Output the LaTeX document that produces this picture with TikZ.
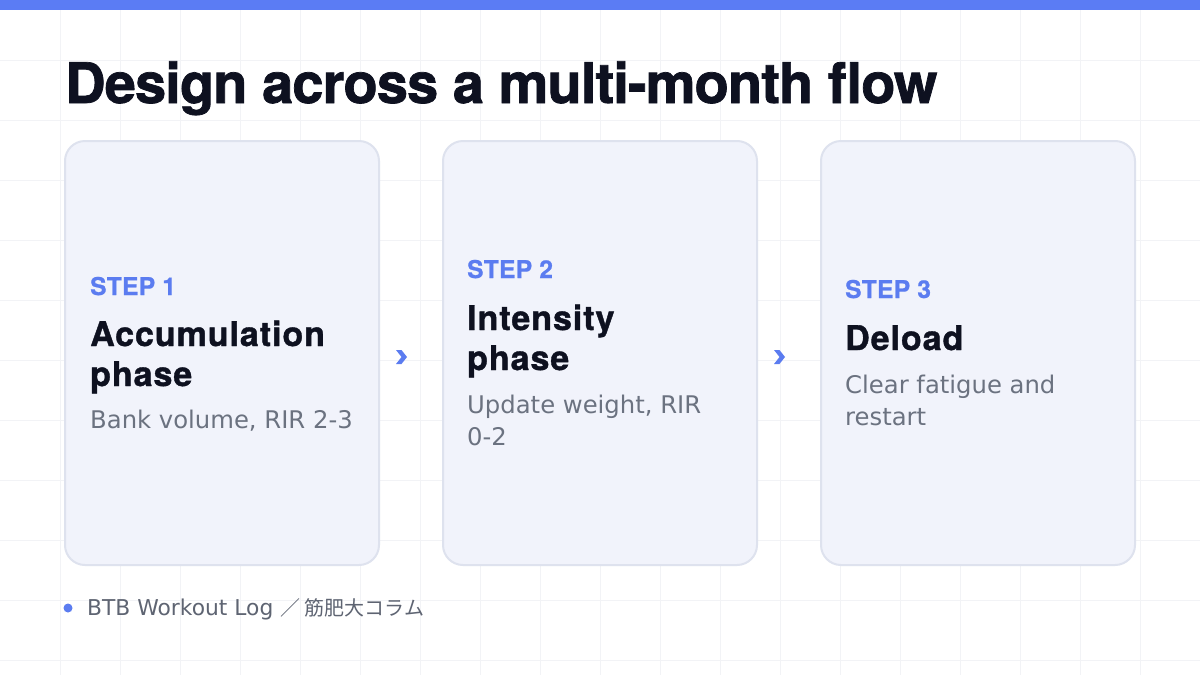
\documentclass[tikz,border=0pt]{standalone}
\usepackage{fontspec}
\setmainfont{DejaVu Sans}
\newfontfamily\hv{TeX Gyre Heros}[LetterSpace=1.5,FakeBold=0.8]
\newfontfamily\hvtitle{TeX Gyre Heros}[LetterSpace=-1.6,FakeBold=1.3]
\newfontfamily\hvcard{TeX Gyre Heros}[LetterSpace=2.8,FakeBold=1.1]
\newfontfamily\cjk{Noto Sans CJK JP}
\definecolor{barblue}{HTML}{5B7CF4}
\definecolor{stepblue}{HTML}{5B7CF0}
\definecolor{ink}{HTML}{0E1120}
\definecolor{muted}{HTML}{6B7280}
\definecolor{footgray}{HTML}{5E6472}
\definecolor{cardfill}{HTML}{F1F3FB}
\definecolor{cardline}{HTML}{DEE2EE}
\definecolor{gridc}{HTML}{F2F3F6}
\begin{document}
\begin{tikzpicture}[x=1pt,y=-1pt,
  card/.style={draw=cardline, line width=2pt, fill=cardfill, rounded corners=20pt,
    minimum width=314pt, minimum height=424pt, inner sep=0pt},
  steplbl/.style={anchor=base west, inner sep=0pt, text=stepblue,
    font=\hv\bfseries\fontsize{24.5}{28}\selectfont},
  ttl/.style={anchor=base west, inner sep=0pt, text=ink,
    font=\hvcard\bfseries\fontsize{34}{40}\selectfont},
  desc/.style={anchor=base west, inner sep=0pt, text=muted,
    font=\fontsize{24.3}{32}\selectfont},
  chevron/.style={fill=stepblue}
]
\useasboundingbox (0,0) rectangle (1200,675);
\fill[white] (0,0) rectangle (1200,675);
% grid
\foreach \x in {60,120,...,1140} \draw[gridc, line width=1pt] (\x,0) -- (\x,675);
\foreach \y in {60,120,...,660} \draw[gridc, line width=1pt] (0,\y) -- (1200,\y);
% top bar
\fill[barblue] (0,0) rectangle (1200,10);
% title
\node[anchor=base west, inner sep=0pt, text=ink, font=\hvtitle\bfseries\fontsize{56}{64}\selectfont]
  (title) at (65,103) {Design across a multi-month flow};
% cards
\node[card] (c1) at (222,353) {};
\node[card] (c2) at (600,353) {};
\node[card] (c3) at (978,353) {};
% card 1
\node[steplbl] (s1) at (90,295) {STEP 1};
\node[ttl] (t1a) at (90,346) {Accumulation};
\node[ttl] (t1b) at (90,386) {phase};
\node[desc] (d1) at (90,428) {Bank volume, RIR 2-3};
% card 2
\node[steplbl] (s2) at (467,278) {STEP 2};
\node[ttl] (t2a) at (467,330) {Intensity};
\node[ttl] (t2b) at (467,370) {phase};
\node[desc] (d2a) at (467,413) {Update weight, RIR};
\node[desc] (d2b) at (467,445) {0-2};
% card 3
\node[steplbl] (s3) at (845,298) {STEP 3};
\node[ttl] (t3a) at (845,350) {Deload};
\node[desc] (d3a) at (845,393) {Clear fatigue and};
\node[desc] (d3b) at (845,425) {restart};
% chevrons
\coordinate (a1) at (401,357);
\coordinate (a2) at (779,357);
\foreach \a in {a1,a2}
  \fill[chevron] ([shift={(-5,-7)}]\a) -- ([shift={(0.5,-7)}]\a) -- ([shift={(6,0)}]\a)
    -- ([shift={(0.5,7)}]\a) -- ([shift={(-5,7)}]\a) -- ([shift={(0.5,0)}]\a) -- cycle;
% footer
\fill[stepblue] (68,608) circle (4.5pt);
\node[anchor=base west, inner sep=0pt, text=footgray, font=\fontsize{21.8}{24}\selectfont]
  (foot) at (87,615) {BTB Workout Log {\cjk\fontsize{20}{24}\selectfont ／ 筋肥大コラム}};
\end{tikzpicture}
\end{document}
